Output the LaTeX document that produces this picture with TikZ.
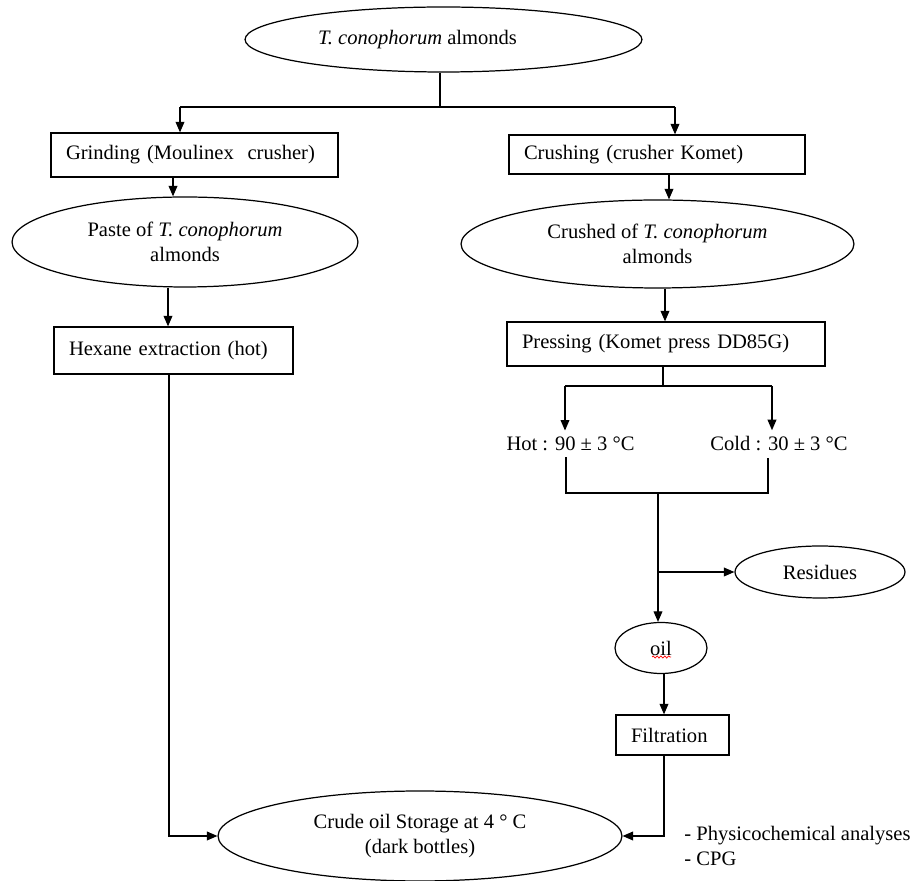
\documentclass[tikz,border=0pt]{standalone}
\usepackage{fontspec}
\setmainfont{Liberation Serif}
\usetikzlibrary{positioning,arrows.meta,shapes.geometric,decorations.pathmorphing}

\begin{document}
\begin{tikzpicture}[x=0.02cm, y=-0.02cm, line width=0.7pt,
    font=\fontsize{11.7}{14.2}\selectfont,
    oval/.style={draw, ellipse, inner sep=0pt, align=center},
    stepbox/.style={draw, rectangle, inner xsep=0.3cm, inner ysep=0pt, align=left},
    arr/.style={-{Triangle[width=5pt,length=6pt]}}]
  \useasboundingbox (0,0) rectangle (921,881);

  % almonds at the top
  \node[oval, minimum width=7.94cm, minimum height=1.3cm] (top) at (443.5,39.5)
       {\textit{T. conophorum} almonds\hspace*{1.04cm}};

  % left branch: solvent extraction
  \node[stepbox, text width=5.14cm, minimum height=0.88cm] (grind) at (194.5,155) {Grinding (Moulinex\ \ crusher)};
  \node[oval, minimum width=6.92cm, minimum height=1.8cm] (paste) at (185,242) {Paste of \textit{T. conophorum}\\almonds};
  \node[stepbox, text width=4.18cm, minimum height=0.94cm] (hexane) at (173.5,350.5) {Hexane extraction\ (hot)};

  % right branch: pressing
  \node[stepbox, text width=5.32cm, minimum height=0.78cm] (crush) at (657,154.5) {Crushing (crusher\ Komet)};
  \node[oval, minimum width=7.86cm, minimum height=1.76cm] (crushed) at (657.5,244) {Crushed of \textit{T. conophorum}\\almonds};
  \node[stepbox, text width=5.76cm, minimum height=0.88cm] (press) at (666,344) {Pressing (Komet press DD85G)};
  \node (hot) at (570.5,444) {Hot : 90 ± 3 °C};
  \node (cold) at (779,444) {Cold : 30 ± 3 °C};
  \node[oval, minimum width=3.4cm, minimum height=1.04cm] (res) at (820,572) {Residues};
  \node[oval, minimum width=1.84cm, minimum height=1.02cm] (oil) at (661,648) {oil};
  \node[stepbox, text width=1.66cm, minimum height=0.8cm] (filt) at (672.5,735) {Filtration};

  % storage
  \node[oval, minimum width=8.08cm, minimum height=1.8cm] (store) at (420,836) {Crude oil Storage at 4 ° C\\(dark bottles)};
  \node[anchor=west, align=left] (ana) at (678,846) {- Physicochemical\ analyses\\- CPG};

  % spelling mark under oil
  \draw[red, line width=0.4pt, decorate, decoration={snake, amplitude=0.6pt, segment length=2.2pt}]
       (oil.center) ++(-9,9) -- ++(19,0);

  % connectors
  \coordinate (sA) at (440,107);
  \coordinate (sAL) at (180,107);
  \coordinate (sAR) at (675,107);
  \draw (top.south -| sA) -- (sA);
  \draw (sAL) -- (sAR);
  \draw[arr] (sAL) -- (sAL |- grind.north);
  \draw[arr] (sAR) -- (sAR |- crush.north);

  \draw[arr] ([xshift=-0.43cm]grind.south) -- ([xshift=-0.43cm]grind.south |- paste.north);
  \draw[arr] ([xshift=-0.34cm]paste.south) -- ([xshift=-0.34cm]paste.south |- hexane.north);
  \coordinate (cL) at (169,836);
  \draw[arr] (hexane.south -| cL) -- (cL) -- (store.west);

  \draw[arr] ([xshift=0.24cm]crush.south) -- ([xshift=0.24cm]crush.south |- crushed.north);
  \draw[arr] ([xshift=0.15cm]crushed.south) -- ([xshift=0.15cm]crushed.south |- press.north);

  \coordinate (sB) at (663,386);
  \coordinate (sBL) at (565,386);
  \coordinate (sBR) at (772,386);
  \draw (press.south -| sB) -- (sB);
  \draw (sBL) -- (sBR);
  \draw[arr] (sBL) -- (sBL |- hot.north);
  \draw[arr] (sBR) -- (sBR |- cold.north);

  \coordinate (sCL) at (566,493);
  \coordinate (sCR) at (768,493);
  \coordinate (sC) at (658,493);
  \draw (hot.south -| sCL) -- (sCL) -- (sCR) -- (cold.south -| sCR);
  \draw[arr] (sC) -- (sC |- oil.north);
  \coordinate (bR) at (658,572);
  \draw[arr] (bR) -- (res.west);

  \draw[arr] ([xshift=0.06cm]oil.south) -- ([xshift=0.06cm]oil.south |- filt.north);
  \coordinate (cR) at (664,836);
  \draw[arr] (filt.south -| cR) -- (cR) -- (store.east);
\end{tikzpicture}
\end{document}
